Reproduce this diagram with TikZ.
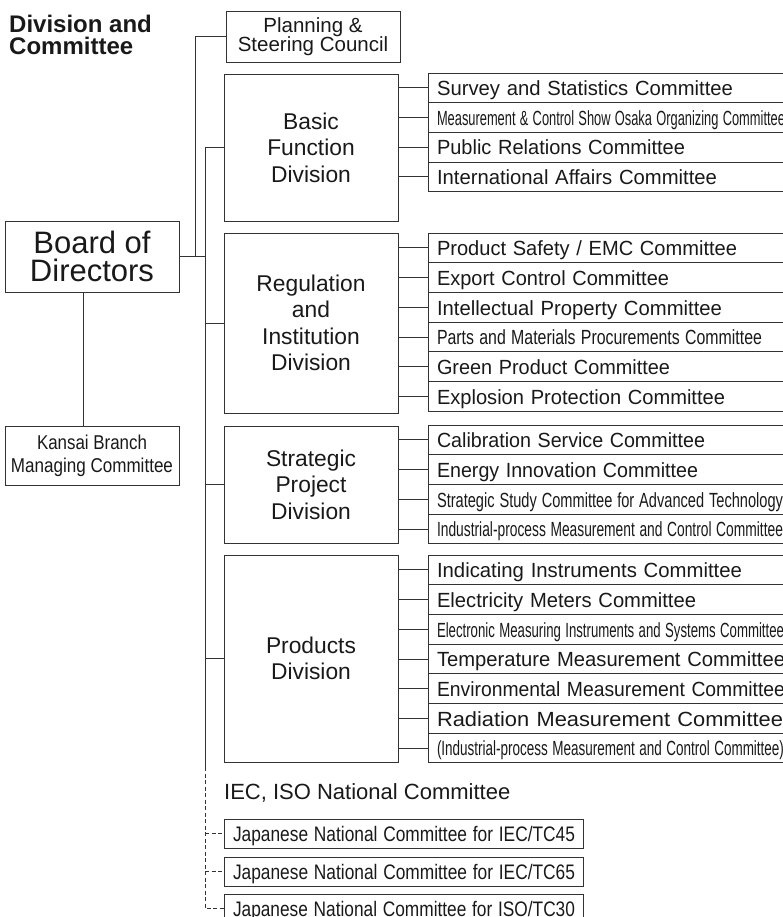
\documentclass[tikz,border=0pt]{standalone}
\usepackage{fontspec}
\setmainfont{Liberation Sans}
\usepackage{graphicx}
\usetikzlibrary{positioning}

\newcommand{\fitw}[2]{\resizebox{#1}{\height}{#2}}
\newcommand{\tightlines}{\lineskiplimit=-20pt\relax}

\begin{document}
\begin{tikzpicture}[
    x=1pt, y=-1pt,
    line/.style={draw=black!80, line width=0.9pt},
    dashline/.style={line, dash pattern=on 4pt off 2.5pt},
    box/.style={draw=black!80, line width=0.9pt, minimum width=174pt, align=center, inner sep=0pt, text=black!90},
    division/.style={box, minimum height=#1, font=\fontsize{22.8}{26.5}\selectfont},
    row/.style={draw=black!80, line width=0.9pt, text width=352pt, inner xsep=9pt, inner ysep=0pt, outer sep=0pt,
        minimum height=29.7pt, text height=15.5pt, text depth=0pt, align=left, text=black!90,
        font=\fontsize{20.5}{24}\selectfont},
    jrow/.style={row, text width=341pt, minimum height=29pt, font=\fontsize{21}{24}\selectfont}
]
\useasboundingbox (0,0) rectangle (782,917);

\node (title) [anchor=north west, inner sep=0pt, align=left, text=black!90, font={\fontsize{24}{22.3}\selectfont\bfseries}] at (9,15) {Division and\\Committee};

\node (board) [box, minimum height=71pt, font=\fontsize{31}{28.3}\selectfont] at (92,256.5) {Board of\\Directors};
\node (kansai) [box, minimum height=59pt, font=\fontsize{20}{23}\selectfont] at (92,455.5) {\fitw{110pt}{Kansai Branch}\\\fitw{162pt}{Managing Committee}};
\node (planning) [box, minimum height=51pt, font={\fontsize{20.5}{19}\selectfont\tightlines}] at (313,36.5) {Planning \&\\Steering Council};

\node (basic) [division=147pt] at (311,147.5) {Basic\\Function\\Division};
\node (regulation) [division=180pt] at (311,323) {Regulation\\and\\Institution\\Division};
\node (strategic) [division=117pt] at (311,484.5) {Strategic\\Project\\Division};
\node (products) [division=207pt] at (311,658.5) {Products\\Division};

% basic function
\node (survey) [row, anchor=north west] at (428,73) {\fitw{296pt}{Survey and Statistics Committee}};
\node (osaka) [row, below=0pt of survey] {\fitw{348pt}{Measurement \& Control Show Osaka Organizing Committee}};
\node (pr) [row, below=0pt of osaka] {\fitw{248pt}{Public Relations Committee}};
\node (intl) [row, below=0pt of pr] {\fitw{280pt}{International Affairs Committee}};

% regulation and institution
\node (safety) [row, anchor=north west] at (428,233) {\fitw{300pt}{Product Safety / EMC Committee}};
\node (export) [row, below=0pt of safety] {\fitw{232pt}{Export Control Committee}};
\node (ip) [row, below=0pt of export] {\fitw{285pt}{Intellectual Property Committee}};
\node (parts) [row, below=0pt of ip] {\fitw{325pt}{Parts and Materials Procurements Committee}};
\node (green) [row, below=0pt of parts] {\fitw{233pt}{Green Product Committee}};
\node (explosion) [row, below=0pt of green] {\fitw{288pt}{Explosion Protection Committee}};

% strategic project
\node (calib) [row, anchor=north west] at (428,425) {\fitw{268pt}{Calibration Service Committee}};
\node (energy) [row, below=0pt of calib] {\fitw{261pt}{Energy Innovation Committee}};
\node (study) [row, below=0pt of energy] {\fitw{346pt}{Strategic Study Committee for Advanced Technology}};
\node (ipmc) [row, below=0pt of study] {\fitw{346pt}{Industrial-process Measurement and Control Committee}};

% products
\node (indicating) [row, anchor=north west] at (428,555) {\fitw{305pt}{Indicating Instruments Committee}};
\node (meters) [row, below=0pt of indicating] {\fitw{259pt}{Electricity Meters Committee}};
\node (electronic) [row, below=0pt of meters] {\fitw{347pt}{Electronic Measuring Instruments and Systems Committee}};
\node (temp) [row, below=0pt of electronic] {\fitw{348pt}{Temperature Measurement Committee}};
\node (env) [row, below=0pt of temp] {\fitw{348pt}{Environmental Measurement Committee}};
\node (radiation) [row, below=0pt of env] {\fitw{346pt}{Radiation Measurement Committee}};
\node (ipmcp) [row, below=0pt of radiation] {\fitw{347pt}{(Industrial-process Measurement and Control Committee)}};

% national committees
\node (iec) [anchor=base west, inner sep=0pt, text=black!90, font=\fontsize{22}{26}\selectfont] at (224,799) {IEC, ISO National Committee};
\node (tc45) [jrow, anchor=north west] at (224,819) {\fitw{342pt}{Japanese National Committee for IEC/TC45}};
\node (tc65) [jrow, below=9pt of tc45] {\fitw{342pt}{Japanese National Committee for IEC/TC65}};
\node (tc30) [jrow, below=8pt of tc65] {\fitw{342pt}{Japanese National Committee for ISO/TC30}};

\coordinate (side) at (195,0);
\coordinate (trunk) at (205,0);
\coordinate (trunkend) at (205,767);

\draw [line] (planning.west) -| (side |- board.east);
\draw [line] (board.east) -- (trunk |- board.east);
\draw [line] ([xshift=-9pt]board.south) -- ([xshift=-9pt]kansai.north);
\draw [line] (basic.west) -| (trunkend);
\draw [line] (regulation.west) -- (regulation.west -| trunk);
\draw [line] (strategic.west) -- (strategic.west -| trunk);
\draw [line] (products.west) -- (products.west -| trunk);

\draw [line] (survey.west -| basic.east) -- (survey.west);
\draw [line] (osaka.west -| basic.east) -- (osaka.west);
\draw [line] (pr.west -| basic.east) -- (pr.west);
\draw [line] (intl.west -| basic.east) -- (intl.west);

\draw [line] (safety.west -| regulation.east) -- (safety.west);
\draw [line] (export.west -| regulation.east) -- (export.west);
\draw [line] (ip.west -| regulation.east) -- (ip.west);
\draw [line] (parts.west -| regulation.east) -- (parts.west);
\draw [line] (green.west -| regulation.east) -- (green.west);
\draw [line] (explosion.west -| regulation.east) -- (explosion.west);

\draw [line] (calib.west -| strategic.east) -- (calib.west);
\draw [line] (energy.west -| strategic.east) -- (energy.west);
\draw [line] (study.west -| strategic.east) -- (study.west);
\draw [line] (ipmc.west -| strategic.east) -- (ipmc.west);

\draw [line] (indicating.west -| products.east) -- (indicating.west);
\draw [line] (meters.west -| products.east) -- (meters.west);
\draw [line] (electronic.west -| products.east) -- (electronic.west);
\draw [line] (temp.west -| products.east) -- (temp.west);
\draw [line] (env.west -| products.east) -- (env.west);
\draw [line] (radiation.west -| products.east) -- (radiation.west);
\draw [line] (ipmcp.west -| products.east) -- (ipmcp.west);

\draw [dashline] (trunkend) |- (tc30.west);
\draw [dashline] (tc45.west -| trunk) -- (tc45.west);
\draw [dashline] (tc65.west -| trunk) -- (tc65.west);

\end{tikzpicture}
\end{document}
